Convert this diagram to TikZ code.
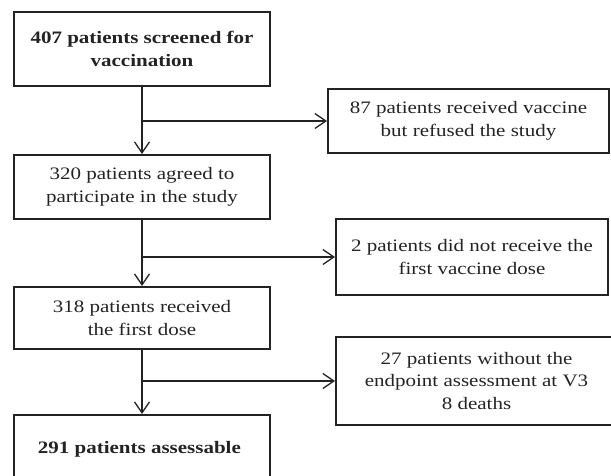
\documentclass[tikz,border=0pt]{standalone}
\usepackage{fontspec}
\setmainfont{Liberation Serif}[FakeStretch=1.2]
\usetikzlibrary{arrows.meta,positioning}
\definecolor{flowline}{RGB}{35,35,35}

\begin{document}
\begin{tikzpicture}[x=1pt, y=-1pt,
        flowbox/.style={draw=flowline, line width=2pt, align=center, text=flowline, inner sep=0pt,
            font=\fontsize{17.5}{22.5}\selectfont},
        mainbox/.style={flowbox, minimum width=256pt},
        sidebox/.style={flowbox, minimum width=275pt},
        arrow/.style={-{Straight Barb[length=11pt,width=15pt]}, line width=1.3pt, draw=flowline}
    ]
        \useasboundingbox (0,0) rectangle (611,476);

        % Main column
        \node[mainbox, minimum height=74pt, font=\fontsize{17.5}{22.5}\selectfont\bfseries] (screened) at (142,49) {
            407 patients screened for\\
            vaccination
        };
        \node[mainbox, minimum height=64pt] (agreed) at (142,187) {
            320 patients agreed to\\
            participate in the study
        };
        \node[mainbox, minimum height=62pt] (firstdose) at (142,318) {
            318 patients received\\
            the first dose
        };
        \node[mainbox, minimum height=68pt, font=\fontsize{17.5}{22.5}\selectfont\bfseries] (assessable) at (142,449) {
            291 patients assessable
        };

        % Exclusions
        \node[sidebox, minimum width=281pt, minimum height=64pt] (refused) at (468.5,121) {
            87 patients received vaccine\\
            but refused the study
        };
        \node[sidebox, minimum width=272pt, minimum height=76pt] (nodose) at (472,257) {
            2 patients did not receive the\\
            first vaccine dose
        };
        \node[sidebox, minimum width=281pt, minimum height=88pt] (noassess) at (476.5,381) {
            27 patients without the\\
            endpoint assessment at V3\\
            8 deaths
        };

        % Branch points
        \coordinate (split1) at (142,121);
        \coordinate (split2) at (142,257);
        \coordinate (split3) at (142,381);

        % Arrows
        \draw[arrow] (screened) -- (agreed);
        \draw[arrow] (agreed) -- (firstdose);
        \draw[arrow] (firstdose) -- (assessable);
        \draw[arrow] (split1) -- (refused);
        \draw[arrow] (split2) -- (nodose);
        \draw[arrow] (split3) -- (noassess);
    \end{tikzpicture}
\end{document}
